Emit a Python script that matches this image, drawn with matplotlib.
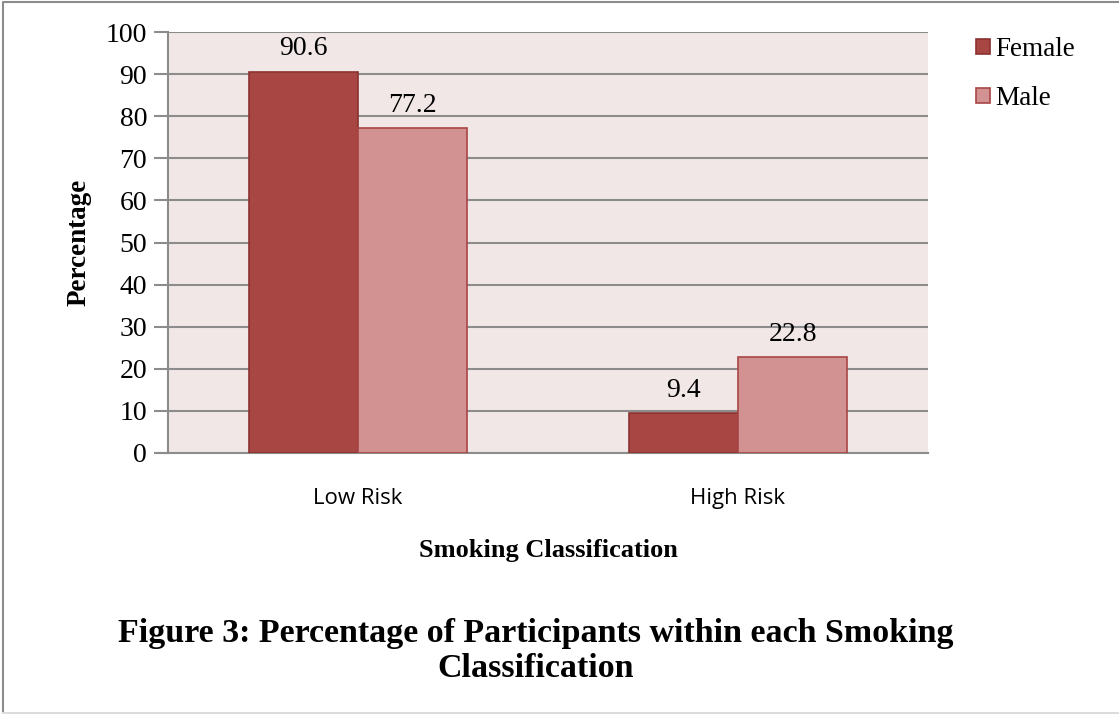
import matplotlib
matplotlib.use("Agg")
import matplotlib.pyplot as plt
import numpy as np
from matplotlib.lines import Line2D

# smoking classification by gender (percent)
categories = ["Low Risk", "High Risk"]
female = [90.6, 9.4]
male = [77.2, 22.8]
yticks = list(range(0, 101, 10))

serif = "Liberation Serif"
fem_color, fem_edge = "#A84644", "#8A3230"
male_color, male_edge = "#D39292", "#A84644"
grid_color = "#8C8C8C"

fig = plt.figure(figsize=(11.19, 7.14), dpi=100)
ax = fig.add_axes([168/1119, 1-453/714, 760/1119, 421/714])
ax.set_facecolor("#F2E7E7")

x = np.arange(len(categories))
w = 0.287
b1 = ax.bar(x - w/2, female, w, color=fem_color, edgecolor=fem_edge, linewidth=1.2, label="Female", zorder=3)
b2 = ax.bar(x + w/2, male, w, color=male_color, edgecolor=male_edge, linewidth=1.2, label="Male", zorder=3)

for bars, vals in ((b1, female), (b2, male)):
    for r, v in zip(bars, vals):
        ax.annotate(f"{v:g}", (r.get_x() + r.get_width()/2, v), xytext=(0, 16.5),
                    textcoords="offset points", ha="center", va="center",
                    fontsize=20, family=serif, zorder=4)

ax.set_xlim(-0.5, 1.5)
ax.set_ylim(0, 100)
ax.set_yticks(yticks)
ax.set_yticklabels([str(t) for t in yticks], family=serif, fontsize=20)
ax.yaxis.grid(True, color=grid_color, linewidth=1.5, zorder=1)
ax.set_axisbelow(True)
ax.tick_params(axis="y", length=10, width=1.5, color=grid_color, pad=5)
ax.set_xticks(x)
ax.set_xticklabels(categories, family="Open Sans", fontsize=16)
ax.tick_params(axis="x", length=0, pad=25)
for s in ("top", "right"):
    ax.spines[s].set_visible(False)
ax.spines["left"].set_color(grid_color)
ax.spines["left"].set_linewidth(1.5)
ax.spines["bottom"].set_color(grid_color)
ax.spines["bottom"].set_linewidth(1.5)
# bottom axis line runs out to the tick marks on the left
ax.plot([-0.5 - 10/380, -0.5], [0, 0], color=grid_color, lw=1.5, clip_on=False)

ax.set_ylabel("Percentage", family=serif, fontweight="bold", fontsize=19.5, labelpad=10)
ax.set_xlabel("Smoking Classification", family=serif, fontweight="bold", fontsize=19, labelpad=22)

ax.legend(loc="upper left", bbox_to_anchor=(976/1119, 1-37/714), bbox_transform=fig.transFigure,
          frameon=False, prop={"family": serif, "size": 19.5}, handlelength=0.5, handleheight=0.5,
          handletextpad=0.2, labelspacing=0.88, borderaxespad=0, borderpad=0)

fig.text(536/1119, 1-651/714, "Figure 3: Percentage of Participants within each Smoking\nClassification",
         ha="center", va="center", family=serif, fontweight="bold", fontsize=24.5, linespacing=1.15)

# page border: dark top and left, faint bottom
fig.add_artist(Line2D([3/1119, 3/1119, 1], [2/714, 1-2/714, 1-2/714], transform=fig.transFigure,
                      color="#8C8C8C", lw=1.5))
fig.add_artist(Line2D([3/1119, 1], [1.5/714, 1.5/714], transform=fig.transFigure,
                      color="#DCDCDC", lw=1.5))

fig.savefig("out.png", dpi=100)
